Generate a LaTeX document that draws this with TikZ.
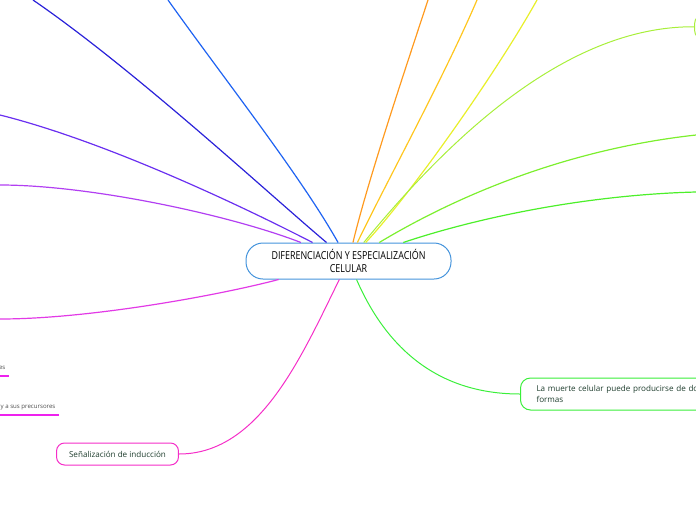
\documentclass[tikz,border=0pt]{standalone}
\usepackage{fontspec}
\setmainfont{Open Sans}
\newfontfamily\narrowsans[FakeStretch=0.81]{Open Sans}
\definecolor{topicblue}{HTML}{4594DC}
\definecolor{nodetext}{HTML}{1E3D2D}
\definecolor{lblue}{HTML}{1F63F2}
\definecolor{lnavy}{HTML}{2B22D9}
\definecolor{lviolet}{HTML}{6A2FF0}
\definecolor{lpurple}{HTML}{B23FF2}
\definecolor{lmagenta}{HTML}{E23AE6}
\definecolor{lpink}{HTML}{F52EC8}
\definecolor{lorange}{HTML}{FF9A1F}
\definecolor{lgold}{HTML}{FFC61F}
\definecolor{lyellow}{HTML}{E8EF2A}
\definecolor{lygreen}{HTML}{A8EF3A}
\definecolor{lgreen}{HTML}{7CEF2E}
\definecolor{lgreentwo}{HTML}{4CEF2A}
\definecolor{lgreenthree}{HTML}{3AEF3A}
\definecolor{twigmagenta}{HTML}{EE22EE}
\begin{document}
\begin{tikzpicture}[x=1pt,y=-1pt,line width=1.2pt]
  \tikzset{centralbox/.style={draw=topicblue, line width=1pt, fill=white, rounded corners=17pt, minimum width=205pt, minimum height=36pt, align=center, text=black, font=\narrowsans\fontsize{11}{12.5}\selectfont},
    leafbox/.style={draw=#1, line width=1pt, fill=white, rounded corners=8pt, text=nodetext, font=\fontsize{8.1}{11}\selectfont},
    twig/.style={inner xsep=3pt, inner ysep=4pt, text depth=1.5pt, text=black!70, font=\fontsize{6.1}{8}\selectfont},
    twigline/.style={draw=twigmagenta, line width=1.3pt}}
  \clip (0,0) rectangle (696,520);
  \node[centralbox] (dif) at (348.5,261) {DIFERENCIACIÓN Y ESPECIALIZACIÓN\\CELULAR};
  \node[leafbox=lpink, minimum height=22pt, inner xsep=12.5pt] (sen) at (117.5,454) {Señalización de inducción};
  \node[leafbox=lgreenthree, anchor=west, minimum height=32pt, inner xsep=16pt, text width=190pt, align=left, rounded corners=10pt] (muerte) at (520,394) {La muerte celular puede producirse de dos\\formas};
  \node[leafbox=lygreen, anchor=west, minimum height=26pt, minimum width=80pt, rounded corners=10pt] (stub) at (694,27) {};
  \node[twig, anchor=south east] (es) at (9,376) {es};
  \node[twig, anchor=south east] (precursores) at (59,415) {y a sus precursores};
  \draw[twigline] (es.south west) -- (es.south east);
  \draw[twigline] (precursores.south west) -- (precursores.south east);
  \coordinate (toblue) at (168,0);
  \coordinate (tonavy) at (33,0);
  \coordinate (toviolet) at (0,115);
  \coordinate (topurple) at (0,185);
  \coordinate (tomagenta) at (0,319);
  \coordinate (toorange) at (428,0);
  \coordinate (togold) at (477,0);
  \coordinate (toyellow) at (537,0);
  \coordinate (togreen) at (696,135);
  \coordinate (togreentwo) at (696,192);
  \draw[lblue] (dif) .. controls (300,175) and (225,80) .. (toblue);
  \draw[lnavy] (dif) .. controls (270,195) and (135,70) .. (tonavy);
  \draw[lviolet] (dif) .. controls (230,200) and (100,140) .. (toviolet);
  \draw[lpurple] (dif) .. controls (230,215) and (90,185) .. (topurple);
  \draw[lmagenta] (dif) .. controls (220,295) and (90,319) .. (tomagenta);
  \draw[lpink, line width=1pt] (dif) .. controls (302,355) and (260,454) .. (sen);
  \draw[lorange] (dif) .. controls (368,180) and (405,70) .. (toorange);
  \draw[lgold] (dif) .. controls (385,185) and (445,75) .. (togold);
  \draw[lyellow] (dif) .. controls (410,195) and (495,75) .. (toyellow);
  \draw[lygreen, line width=1pt] (dif) .. controls (440,150) and (560,26) .. (stub);
  \draw[lgreen] (dif) .. controls (450,200) and (560,150) .. (togreen);
  \draw[lgreentwo] (dif) .. controls (470,220) and (580,195) .. (togreentwo);
  \draw[lgreenthree, line width=1pt] (dif) .. controls (385,345) and (435,394) .. (muerte);
\end{tikzpicture}
\end{document}
